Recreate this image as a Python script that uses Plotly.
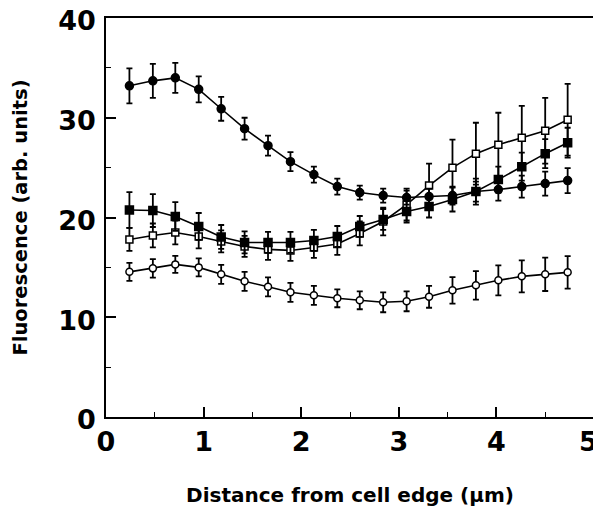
import plotly.graph_objects as go

distance = [0.24, 0.48, 0.71, 0.95, 1.18, 1.42, 1.66, 1.89, 2.13, 2.37,
            2.60, 2.84, 3.08, 3.31, 3.55, 3.79, 4.02, 4.26, 4.50, 4.73]

filled_circles = [33.2, 33.7, 34.0, 32.85, 30.9, 28.9, 27.2, 25.6, 24.3, 23.1,
                  22.5, 22.2, 22.0, 22.1, 22.2, 22.6, 22.8, 23.1, 23.4, 23.7]
filled_circles_err = [1.75, 1.7, 1.5, 1.3, 1.2, 1.1, 1.0, 0.95, 0.8, 0.8,
                      0.7, 0.7, 0.7, 0.8, 0.9, 1.0, 1.1, 1.1, 1.2, 1.25]

filled_squares = [20.75, 20.7, 20.1, 19.1, 18.05, 17.5, 17.5, 17.5, 17.7, 18.1,
                  19.1, 19.8, 20.6, 21.1, 21.8, 22.6, 23.8, 25.1, 26.4, 27.5]
filled_squares_err = [1.8, 1.65, 1.45, 1.35, 1.2, 1.1, 1.05, 1.05, 1.05, 1.05,
                      1.05, 1.05, 1.1, 1.1, 1.2, 1.3, 1.3, 1.4, 1.45, 1.5]

open_squares = [17.8, 18.2, 18.5, 18.1, 17.6, 17.1, 16.8, 16.7, 17.0, 17.35,
                18.4, 19.6, 21.3, 23.2, 25.0, 26.4, 27.3, 28.0, 28.7, 29.8]
open_squares_err = [1.15, 1.2, 1.2, 1.2, 1.1, 1.05, 1.05, 1.05, 1.05, 1.1,
                    1.2, 1.4, 1.6, 2.2, 2.8, 3.1, 3.2, 3.2, 3.3, 3.6]

open_circles = [14.55, 14.9, 15.3, 15.0, 14.3, 13.6, 13.05, 12.5, 12.2, 11.9,
                11.7, 11.5, 11.6, 12.05, 12.7, 13.2, 13.7, 14.1, 14.3, 14.5]
open_circles_err = [0.9, 0.93, 0.85, 0.9, 0.95, 0.95, 0.95, 0.95, 0.95, 0.9,
                    0.9, 1.0, 1.0, 1.1, 1.33, 1.43, 1.5, 1.6, 1.67, 1.63]

x_ticks = [0, 1, 2, 3, 4, 5]
x_tick_labels = ["0", "1", "2", "3", "4", "5"]
y_ticks = [0, 10, 20, 30, 40]

FONT = "DejaVu Sans, sans-serif"

def series(y, err, symbol, fill, size):
    return go.Scatter(
        x=distance, y=y, mode="lines+markers",
        line=dict(color="black", width=1.6),
        marker=dict(symbol=symbol, size=size, color=fill,
                    line=dict(color="black", width=1.5)),
        error_y=dict(type="data", array=err, visible=True,
                     color="black", thickness=1.8, width=3),
        showlegend=False,
    )

fig = go.Figure()
fig.add_trace(series(open_circles, open_circles_err, "circle", "white", 7))
fig.add_trace(series(open_squares, open_squares_err, "square", "white", 7))
fig.add_trace(series(filled_squares, filled_squares_err, "square", "black", 8))
fig.add_trace(series(filled_circles, filled_circles_err, "circle", "black", 8))

# the last x tick label would run past the right edge; draw it nudged inwards
fig.add_annotation(
    x=x_ticks[-1], xref="x", y=0, yref="paper",
    text=x_tick_labels[-1], showarrow=False,
    xanchor="center", yanchor="middle", xshift=-6, yshift=-24,
    font=dict(size=27, family=FONT, weight="bold", color="black"),
)

fig.update_layout(
    width=593, height=504,
    margin=dict(l=98, r=7, t=10, b=95),
    paper_bgcolor="white", plot_bgcolor="white",
    font=dict(family=FONT, color="black"),
)
fig.update_xaxes(
    range=[0, 5], tickvals=x_ticks, ticktext=x_tick_labels[:-1] + [""],
    showgrid=False, zeroline=False, automargin=False,
    showline=True, linecolor="black", linewidth=1.5, mirror=True,
    ticks="inside", ticklen=10, tickwidth=1.5, tickcolor="black",
    minor=dict(dtick=0.5, ticks="inside", ticklen=5, tickwidth=1.2, tickcolor="black"),
    tickfont=dict(size=27, family=FONT, weight="bold"),
    ticklabelstandoff=0, ticklabeloverflow="allow",
    title=dict(text="Distance from cell edge (μm)",
               font=dict(size=20, family=FONT, weight="bold"), standoff=32),
)
fig.update_yaxes(
    range=[0, 40], tickvals=y_ticks, ticktext=[str(v) for v in y_ticks],
    showgrid=False, zeroline=False, automargin=False,
    showline=True, linecolor="black", linewidth=1.5, mirror=True,
    ticks="inside", ticklen=10, tickwidth=1.5, tickcolor="black",
    minor=dict(dtick=5, ticks="inside", ticklen=5, tickwidth=1.2, tickcolor="black"),
    tickfont=dict(size=27, family=FONT, weight="bold"),
    ticklabelstandoff=3, ticklabelshift=3, ticklabeloverflow="allow",
    title=dict(text="Fluorescence (arb. units)",
               font=dict(size=19.5, family=FONT, weight="bold"), standoff=25),
)

fig.write_html("out.html")
